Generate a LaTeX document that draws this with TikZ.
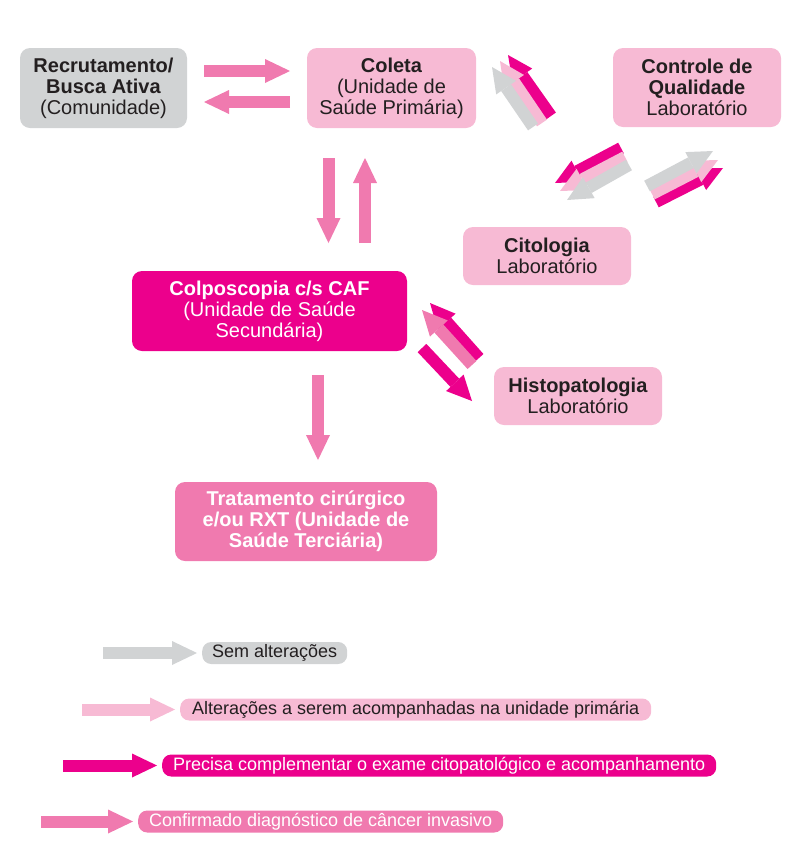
\documentclass[tikz,border=0pt]{standalone}
\usepackage{fontspec}
\setmainfont{Liberation Sans}
\usetikzlibrary{arrows.meta}

\definecolor{cinza}{HTML}{D1D3D4}
\definecolor{rosaclaro}{HTML}{F7BAD4}
\definecolor{rosaforte}{HTML}{EC008C}
\definecolor{rosamedio}{HTML}{F07AAF}
\definecolor{texto}{HTML}{231F20}

\tikzset{
	caixa/.style={rounded corners=10pt, align=center, inner sep=0pt, text=texto, font=\fontsize{20}{21}\selectfont},
	legenda/.style={rounded corners=9pt, anchor=west, minimum height=22pt, inner xsep=0pt, inner ysep=0pt, text=texto, font=\fontsize{18}{18}\selectfont},
	seta/.style={line width=12pt, -{Triangle[length=25pt, width=24pt, line width=0pt]}},
}

\begin{document}
\begin{tikzpicture}[x=1pt, y=-1pt]
	\useasboundingbox (0,0) rectangle (794,847);
	
	\node[caixa, fill=cinza, minimum width=167pt, minimum height=80pt] (recrut) at (103.5,88) {\textbf{Recrutamento/}\\\textbf{Busca Ativa}\\(Comunidade)};
	\node[caixa, fill=rosaclaro, minimum width=169pt, minimum height=80pt] (coleta) at (391.5,88) {\textbf{Coleta}\\(Unidade de\\Saúde Primária)};
	\node[caixa, fill=rosaclaro, minimum width=168pt, minimum height=79pt] (controle) at (697,87.5) {\textbf{Controle de}\\\textbf{Qualidade}\\Laboratório};
	\node[caixa, fill=rosaclaro, minimum width=168pt, minimum height=58pt] (citologia) at (547,256) {\textbf{Citologia}\\Laboratório};
	\node[caixa, fill=rosaforte, text=white, minimum width=275pt, minimum height=80pt] (colpo) at (269.5,311) {\textbf{Colposcopia c/s CAF}\\(Unidade de Saúde\\Secundária)};
	\node[caixa, fill=rosaclaro, minimum width=168pt, minimum height=58pt] (histo) at (578,396) {\textbf{Histopatologia}\\Laboratório};
	\node[caixa, fill=rosamedio, text=white, minimum width=262pt, minimum height=79pt, font=\fontsize{20}{21}\selectfont\bfseries] (tratamento) at (306,521.5) {Tratamento cirúrgico\\e/ou RXT (Unidade de\\Saúde Terciária)};
	
	% pontas das setas
	\coordinate (rc1) at (204,71);   \coordinate (rc2) at (290,71);
	\coordinate (cr1) at (290,102);  \coordinate (cr2) at (204,102);
	\coordinate (cc1) at (328.5,158); \coordinate (cc2) at (328.5,243);
	\coordinate (pc1) at (365,243);  \coordinate (pc2) at (365,158);
	\coordinate (pt1) at (318,375);  \coordinate (pt2) at (318,460);
	\coordinate (ph1) at (422,348);  \coordinate (ph2) at (472,401);
	\coordinate (hp1) at (479,358);  \coordinate (hp2) at (430,303);
	\coordinate (hq1) at (472,365);  \coordinate (hq2) at (422,310);
	
	\draw[seta, rosamedio] (rc1) -- (rc2);
	\draw[seta, rosamedio] (cr1) -- (cr2);
	\draw[seta, rosamedio] (cc1) -- (cc2);
	\draw[seta, rosamedio] (pc1) -- (pc2);
	\draw[seta, rosamedio] (pt1) -- (pt2);
	\draw[seta, rosaforte] (ph1) -- (ph2);
	\draw[seta, rosaforte] (hp1) -- (hp2);
	\draw[seta, rosamedio] (hq1) -- (hq2);
	
	% controle -> coleta
	\coordinate (kc1) at (551,116); \coordinate (kc2) at (508,55);
	\coordinate (kc3) at (542,123); \coordinate (kc4) at (500,61);
	\coordinate (kc5) at (533,127); \coordinate (kc6) at (492,67);
	\draw[seta, rosaforte] (kc1) -- (kc2);
	\draw[seta, rosaclaro] (kc3) -- (kc4);
	\draw[seta, cinza] (kc5) -- (kc6);
	
	% controle -> citologia
	\coordinate (ki1) at (621,148); \coordinate (ki2) at (555,183);
	\coordinate (ki3) at (625,157); \coordinate (ki4) at (560,191);
	\coordinate (ki5) at (629,165); \coordinate (ki6) at (567,200);
	\draw[seta, rosaforte] (ki1) -- (ki2);
	\draw[seta, rosaclaro] (ki3) -- (ki4);
	\draw[seta, cinza] (ki5) -- (ki6);
	
	% citologia -> controle
	\coordinate (ik1) at (656,202); \coordinate (ik2) at (723,168);
	\coordinate (ik3) at (652,194); \coordinate (ik4) at (718,160);
	\coordinate (ik5) at (647,186); \coordinate (ik6) at (713,151);
	\draw[seta, rosaforte] (ik1) -- (ik2);
	\draw[seta, rosaclaro] (ik3) -- (ik4);
	\draw[seta, cinza] (ik5) -- (ik6);
	
	% legenda
	\node[legenda, fill=cinza, minimum width=145pt] (semalt) at (202,653) {Sem alterações};
	\node[legenda, fill=rosaclaro, minimum width=471pt] (altprim) at (180,709.5) {Alterações a serem acompanhadas na unidade primária};
	\node[legenda, fill=rosaforte, text=white, minimum width=554pt] (precisa) at (162,765.5) {Precisa complementar o exame citopatológico e acompanhamento};
	\node[legenda, fill=rosamedio, text=white, minimum width=365pt] (confirm) at (138,821.5) {Confirmado diagnóstico de câncer invasivo};
	
	\coordinate (l1) at (103,653);
	\coordinate (l2) at (82,709.5);
	\coordinate (l3) at (63,765.5);
	\coordinate (l4) at (41,821.5);
	\draw[seta, cinza] (l1) -- ([xshift=-5pt]semalt.west);
	\draw[seta, rosaclaro] (l2) -- ([xshift=-5pt]altprim.west);
	\draw[seta, rosaforte] (l3) -- ([xshift=-5pt]precisa.west);
	\draw[seta, rosamedio] (l4) -- ([xshift=-5pt]confirm.west);
\end{tikzpicture}
\end{document}
